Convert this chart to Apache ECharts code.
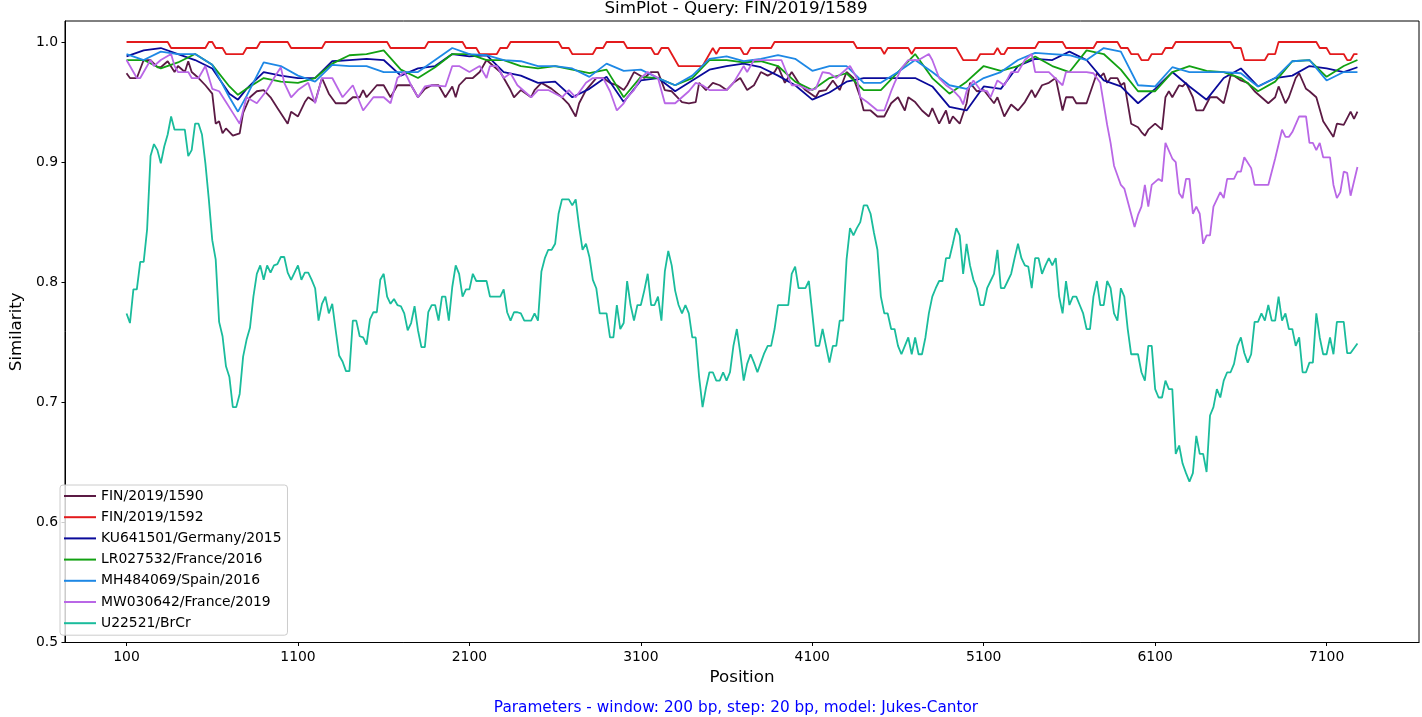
<!DOCTYPE html>
<html>
<head>
<meta charset="utf-8">
<script src="https://cdn.jsdelivr.net/npm/echarts@6/dist/echarts.min.js"></script>
<style>
html,body{margin:0;padding:0;background:#fff;}
#chart{width:1422px;height:717px;}
</style>
</head>
<body>
<div id="chart"></div>
<script>
const seriesNames = ['FIN/2019/1590','FIN/2019/1592','KU641501/Germany/2015','LR027532/France/2016','MH484069/Spain/2016','MW030642/France/2019','U22521/BrCr'];
const seriesColors = ['#5b1a44','#e31a1c','#0a0a9a','#12a112','#1e88e5','#b967e6','#1abc9c'];
const xTicks = [100,1100,2100,3100,4100,5100,6100,7100];
const yTicks = [0.5,0.6,0.7,0.8,0.9,1.0];

// shared positions for three of the series
const positions = [100,200,300,400,500,600,700,750,800,900,1000,1100,1200,1300,1400,1500,1600,1700,
 1800,1900,2000,2100,2200,2300,2400,2500,2600,2700,2800,2900,3000,3100,3200,3300,3400,3500,3600,
 3700,3800,3900,4000,4100,4200,4300,4400,4500,4600,4700,4800,4900,5000,5100,5200,5300,5400,5500,5600,
 5700,5800,5900,6000,6100,6200,6300,6400,6500,6600,6700,6800,6900,7000,7100,7200,7280];

const ku641501 = [.988,.993,.995,.990,.985,.978,.957,.952,.961,.975,.972,.970,.970,.984,.985,.986,.985,.972,
 .978,.980,.990,.988,.989,.975,.972,.966,.967,.954,.961,.971,.950,.968,.970,.959,.968,.977,.980,
 .982,.979,.972,.964,.952,.958,.967,.970,.970,.970,.970,.963,.946,.943,.963,.961,.980,.986,.985,.992,
 .985,.968,.963,.949,.961,.975,.963,.952,.970,.978,.963,.970,.972,.980,.978,.975,.979];

const lr027532 = [.985,.985,.978,.983,.990,.981,.963,.956,.961,.970,.967,.966,.970,.982,.989,.990,.993,.977,
 .970,.979,.990,.990,.985,.985,.980,.978,.980,.977,.974,.977,.954,.971,.970,.964,.970,.985,.985,
 .983,.984,.980,.967,.960,.970,.974,.960,.960,.975,.990,.970,.957,.967,.980,.976,.980,.988,.980,.975,
 .993,.990,.977,.959,.959,.975,.980,.976,.975,.970,.959,.967,.984,.985,.971,.980,.985];

const mh484069 = [.990,.985,.992,.990,.990,.981,.954,.942,.955,.983,.980,.972,.967,.981,.980,.980,.975,.975,
 .975,.985,.995,.990,.989,.985,.984,.980,.980,.978,.971,.982,.976,.977,.970,.964,.972,.986,.988,
 .984,.986,.989,.986,.976,.980,.980,.966,.966,.975,.985,.975,.964,.961,.970,.975,.985,.991,.990,.989,
 .985,.995,.992,.964,.963,.979,.975,.975,.975,.974,.963,.970,.984,.985,.968,.975,.975];

// FIN/2019/1590
const fin1590Pos = [100,120,160,200,240,280,300,340,380,400,
 440,460,480,520,560,600,620,640,660,680,
 720,760,780,820,860,900,940,980,1040,1060,
 1100,1140,1160,1200,1240,1280,1320,1380,1420,1460,
 1480,1500,1560,1600,1640,1680,1720,1760,1800,1840,
 1880,1920,1960,2000,2020,2040,2080,2120,2160,2200,
 2240,2280,2340,2360,2400,2460,2480,2520,2580,2640,
 2680,2720,2740,2780,2840,2880,2920,2960,3000,3020,
 3060,3120,3160,3200,3240,3280,3340,3380,3420,3440,
 3480,3520,3560,3600,3640,3680,3720,3760,3800,3840,
 3880,3900,3940,3980,4020,4060,4120,4140,4180,4220,
 4260,4300,4340,4380,4400,4440,4480,4520,4560,4600,
 4640,4660,4700,4740,4780,4800,4840,4880,4900,4920,
 4960,5000,5020,5060,5100,5160,5180,5220,5260,5300,
 5340,5380,5400,5440,5480,5520,5560,5580,5620,5640,
 5700,5760,5780,5800,5820,5840,5880,5900,5920,5960,
 6000,6020,6040,6060,6100,6140,6160,6180,6200,6240,
 6260,6280,6320,6340,6380,6420,6460,6500,6520,6540,
 6560,6600,6640,6680,6720,6760,6800,6820,6860,6880,
 6920,6940,6980,7000,7040,7080,7140,7160,7200,7240,
 7260,7280];
const fin1590Val = [.974,.970,.970,.985,.985,.979,.979,.984,.975,.980,
 .975,.984,.975,.970,.964,.957,.932,.934,.924,.928,
 .922,.924,.941,.954,.959,.960,.954,.945,.932,.942,
 .938,.950,.954,.950,.970,.957,.949,.949,.954,.954,
 .960,.954,.964,.964,.954,.964,.964,.964,.954,.961,
 .964,.964,.954,.963,.954,.964,.970,.970,.975,.985,
 .980,.975,.960,.954,.960,.954,.960,.966,.961,.954,
 .948,.938,.949,.960,.970,.970,.966,.964,.960,.964,
 .975,.970,.975,.975,.960,.959,.950,.949,.950,.966,
 .960,.966,.964,.960,.966,.970,.960,.964,.975,.972,
 .975,.980,.966,.975,.966,.960,.954,.959,.960,.968,
 .960,.975,.970,.954,.943,.943,.938,.938,.949,.954,
 .943,.954,.950,.943,.938,.945,.932,.943,.932,.938,
 .932,.949,.966,.959,.960,.949,.954,.938,.948,.943,
 .950,.960,.954,.964,.966,.970,.943,.954,.954,.949,
 .949,.974,.971,.974,.966,.970,.970,.964,.966,.932,
 .929,.925,.922,.927,.932,.927,.954,.959,.954,.964,
 .963,.966,.954,.943,.943,.954,.954,.949,.960,.972,
 .972,.968,.966,.959,.954,.949,.954,.963,.949,.954,
 .970,.974,.961,.959,.954,.934,.921,.932,.931,.942,
 .936,.942];

// FIN/2019/1592 (plateau edges)
const fin1592Pos = [100,340,360,560,580,600,620,660,680,780,
 800,860,880,1040,1060,1240,1260,1620,1640,1840,
 1860,2060,2080,2140,2160,2260,2280,2320,2340,2620,
 2640,2680,2700,2820,2840,2880,2900,3000,3020,3160,
 3180,3200,3220,3260,3280,3300,3320,3460,3480,3500,
 3520,3540,3560,3680,3700,3720,3740,3860,3880,4340,
 4360,4500,4520,4540,4660,4680,4700,4940,4960,4980,
 5060,5080,5160,5180,5200,5220,5240,5400,5420,5560,
 5580,5740,5760,5880,5900,5940,5960,6000,6020,6060,
 6080,6140,6160,6200,6220,6540,6560,6600,6620,6740,
 6760,6800,6820,7040,7060,7100,7120,7200,7220,7240,
 7260,7280];
const fin1592Val = [1,1,.995,.995,1,1,.995,.995,.99,.99,
 .995,.995,1,1,.995,.995,1,1,.995,.995,
 1,1,.995,.995,.99,.99,.995,.995,1,1,
 .995,.995,.99,.99,.995,.995,1,1,.995,.995,
 .99,.99,.995,.995,.99,.985,.98,.98,.985,.99,
 .995,.99,.995,.995,.99,.99,.995,.995,1,1,
 .995,.995,.99,.995,.995,.99,.995,.995,.99,.985,
 .985,.99,.99,.995,.99,.99,.995,.995,1,1,
 .995,.995,1,1,.995,.995,.99,.99,.985,.985,
 .99,.99,.995,.995,1,1,.995,.995,.985,.985,
 .99,.99,1,1,.995,.995,.99,.99,.985,.985,
 .99,.99];

// MW030642/France/2019
const mw030642Pos = [100,120,160,180,240,260,300,360,380,400,
 460,480,520,560,600,640,680,720,760,800,
 860,920,960,1000,1020,1060,1100,1160,1200,1240,
 1300,1360,1420,1480,1540,1600,1640,1680,1720,1740,
 1760,1800,1840,1880,1960,2000,2040,2100,2160,2200,
 2220,2260,2300,2340,2380,2460,2500,2560,2640,2680,
 2720,2780,2820,2880,2920,2960,3000,3020,3060,3100,
 3140,3200,3240,3300,3340,3380,3420,3460,3500,3600,
 3640,3700,3720,3760,3920,3980,4020,4080,4120,4160,
 4200,4240,4280,4320,4360,4380,4420,4480,4520,4560,
 4580,4620,4660,4720,4780,4800,4840,4880,4920,4960,
 4980,5000,5040,5080,5120,5140,5180,5220,5260,5300,
 5340,5380,5400,5480,5560,5580,5660,5700,5740,5760,
 5780,5820,5840,5860,5900,5920,5980,6000,6020,6040,
 6060,6080,6120,6140,6160,6200,6220,6240,6260,6280,
 6300,6320,6340,6360,6380,6400,6420,6440,6480,6500,
 6520,6560,6580,6600,6620,6660,6680,6760,6800,6840,
 6860,6880,6900,6940,6980,7000,7020,7040,7060,7080,
 7120,7140,7160,7180,7200,7220,7240,7280];
const mw030642Val = [.985,.980,.970,.970,.985,.980,.985,.990,.980,.975,
 .975,.970,.970,.980,.961,.959,.950,.941,.932,.954,
 .949,.960,.970,.979,.966,.954,.960,.966,.949,.970,
 .970,.954,.964,.943,.954,.954,.949,.970,.975,.970,
 .964,.954,.963,.964,.963,.980,.980,.975,.980,.970,
 .980,.980,.970,.974,.964,.954,.960,.960,.954,.960,
 .954,.966,.970,.970,.959,.943,.949,.954,.960,.970,
 .975,.970,.949,.949,.954,.959,.966,.964,.960,.960,
 .966,.980,.975,.985,.985,.964,.964,.960,.961,.975,
 .974,.970,.975,.980,.970,.954,.950,.943,.943,.959,
 .966,.978,.985,.985,.990,.985,.970,.964,.960,.954,
 .948,.959,.968,.960,.959,.954,.968,.964,.975,.975,
 .985,.990,.975,.975,.964,.975,.975,.975,.974,.970,
 .966,.931,.916,.897,.881,.878,.846,.856,.863,.881,
 .863,.881,.886,.884,.916,.903,.900,.874,.870,.886,
 .886,.857,.863,.857,.832,.839,.839,.863,.875,.870,
 .886,.886,.892,.892,.904,.895,.881,.881,.903,.927,
 .921,.921,.925,.938,.938,.916,.916,.910,.916,.904,
 .904,.881,.870,.875,.892,.891,.872,.896];

// U22521/BrCr
const u22521Pos = [100,120,140,160,180,200,220,240,260,280,
 300,320,340,360,380,440,460,480,500,520,
 540,560,580,600,620,640,660,680,700,720,
 740,760,780,800,820,840,860,880,900,920,
 940,960,980,1000,1020,1040,1060,1080,1100,1120,
 1140,1160,1180,1200,1220,1240,1260,1280,1300,1320,
 1340,1360,1380,1400,1420,1440,1460,1480,1500,1520,
 1540,1560,1580,1600,1620,1640,1660,1680,1700,1720,
 1740,1760,1780,1800,1820,1840,1860,1880,1900,1920,
 1940,1960,1980,2000,2020,2040,2060,2080,2100,2120,
 2140,2200,2220,2280,2300,2320,2340,2360,2380,
 2400,2420,2460,2480,2500,2520,2540,2560,2580,2600,
 2620,2640,2680,2700,2720,2740,2760,2780,2800,2820,
 2840,2860,2900,2920,2940,2960,2980,3000,3020,3040,
 3060,3080,3100,3120,3140,3160,3180,3200,3220,3240,
 3260,3280,3300,3320,3340,3360,3380,3400,3420,3440,
 3460,3480,3500,3520,3540,3560,3580,3600,3620,3640,
 3660,3680,3700,3720,3740,3760,3780,3800,3820,3840,
 3860,3880,3900,3960,3980,4000,4020,4060,4080,4100,
 4120,4140,4160,4180,4200,4220,4240,4260,4280,4300,
 4320,4340,4360,4380,4400,4420,4440,4460,4480,4500,
 4520,4540,4560,4580,4600,4620,4640,4660,4680,4700,
 4720,4740,4760,4780,4800,4820,4840,4860,4880,4900,
 4920,4940,
 4960,4980,5000,5020,5040,5060,5080,5100,5120,5140,
 5160,5180,5200,5220,5240,5260,5280,5300,5320,5340,
 5360,5380,5400,5420,5440,5460,5480,5500,5520,5540,
 5560,5580,5600,5620,5640,5660,5680,5700,5720,5740,
 5760,5780,5800,5820,5840,5860,5880,5900,5920,5940,
 5960,6000,6020,6040,6060,6080,6100,6120,6140,6160,
 6180,6200,6220,6240,6260,6280,6300,6320,6340,6360,
 6380,6400,6420,6440,6460,6480,6500,6520,6540,6560,
 6580,6600,6620,6640,6660,6680,6700,6720,6740,6760,
 6780,6800,6820,6840,6860,6880,6900,6920,6940,6960,
 6980,7000,7020,7040,7060,7080,7100,7120,7140,7160,
 7200,7220,7240,7280];
const u22521Val = [.774,.766,.794,.794,.817,.817,.844,.905,.915,.910,
 .899,.913,.923,.938,.927,.927,.905,.910,.932,.932,
 .923,.899,.869,.835,.819,.767,.755,.730,.721,.696,
 .696,.707,.738,.752,.762,.788,.807,.814,.802,.814,
 .808,.814,.815,.821,.821,.808,.802,.808,.814,.802,
 .808,.808,.802,.795,.768,.782,.788,.774,.782,.760,
 .739,.734,.726,.726,.768,.768,.755,.754,.748,.769,
 .775,.775,.802,.807,.788,.782,.786,.781,.780,.774,
 .760,.766,.780,.760,.746,.746,.775,.781,.781,.768,
 .788,.788,.768,.796,.814,.807,.788,.794,.794,.807,
 .801,.801,.788,.788,.794,.775,.768,.775,.775,
 .774,.768,.768,.774,.768,.809,.820,.827,.827,.832,
 .857,.869,.869,.864,.869,.846,.827,.832,.821,.802,
 .795,.774,.774,.754,.754,.781,.761,.766,.801,.781,
 .768,.781,.781,.793,.807,.781,.781,.788,.768,.809,
 .826,.814,.793,.781,.774,.781,.774,.754,.754,.721,
 .696,.712,.725,.725,.718,.718,.725,.718,.725,.747,
 .761,.741,.718,.732,.740,.733,.725,.733,.741,.747,
 .747,.761,.781,.781,.807,.813,.795,.795,.801,.774,
 .747,.747,.761,.747,.733,.747,.747,.768,.768,.819,
 .845,.839,.845,.850,.864,.864,.857,.841,.827,.788,
 .774,.774,.761,.761,.747,.740,.747,.754,.740,.754,
 .740,.740,.754,.774,.788,.795,.801,.801,.820,.820,
 .832,.845,
 .839,.807,.832,.814,.802,.795,.781,.781,.795,.801,
 .807,.827,.795,.795,.801,.807,.820,.832,.820,.814,
 .813,.795,.820,.820,.807,.814,.820,.814,.820,.788,
 .774,.801,.781,.788,.788,.781,.774,.761,.761,.788,
 .801,.781,.781,.801,.795,.774,.768,.795,.788,.761,
 .740,.740,.725,.718,.747,.747,.711,.704,.704,.718,
 .711,.711,.657,.664,.649,.641,.634,.641,.672,.657,
 .657,.642,.689,.696,.711,.704,.718,.725,.725,.732,
 .747,.754,.741,.733,.740,.767,.767,.774,.768,.781,
 .768,.768,.788,.768,.774,.761,.761,.747,.754,.725,
 .725,.733,.733,.774,.754,.740,.740,.754,.740,.767,
 .767,.741,.741,.749];

function zip(xs, ys){ const n=Math.min(xs.length, ys.length); const out=[]; for(let i=0;i<n;i++) out.push([xs[i], ys[i]]); return out; }

const seriesData = [
  zip(fin1590Pos, fin1590Val),
  zip(fin1592Pos, fin1592Val),
  zip(positions, ku641501),
  zip(positions, lr027532),
  zip(positions, mh484069),
  zip(mw030642Pos, mw030642Val),
  zip(u22521Pos, u22521Val)
];

const FONT = '"DejaVu Sans", "Liberation Sans", sans-serif';
const chart = echarts.init(document.getElementById('chart'), null, {renderer:'canvas'});
const option = {
  animation: false,
  backgroundColor: '#ffffff',
  textStyle: { fontFamily: FONT, color: '#000' },
  grid: { left: 53, right: 3, top: 21, bottom: 74.5, show: true, borderColor: '#000', borderWidth: 1, backgroundColor: 'rgba(0,0,0,0)' },
  xAxis: {
    type: 'value', min: -259, max: 7639,
    name: 'Position', nameLocation: 'middle', nameGap: 27,
    nameTextStyle: { fontSize: 16.7, color: '#000', fontFamily: FONT },
    axisLine: { show: true, onZero: false, lineStyle: { color: '#000', width: 1 } },
    axisTick: { show: true, length: 3.5, customValues: xTicks, lineStyle: { color: '#000', width: 1 } },
    axisLabel: { customValues: xTicks, fontSize: 13.9, color: '#000', margin: 8, fontFamily: FONT, formatter: v => String(v) },
    splitLine: { show: false }
  },
  yAxis: {
    type: 'value', min: 0.5, max: 1.0175,
    name: 'Similarity', nameLocation: 'middle', nameGap: 37,
    nameTextStyle: { fontSize: 16.7, color: '#000', fontFamily: FONT },
    axisLine: { show: true, onZero: false, lineStyle: { color: '#000', width: 1 } },
    axisTick: { show: true, length: 3.5, customValues: yTicks, lineStyle: { color: '#000', width: 1 } },
    axisLabel: { customValues: yTicks, fontSize: 13.9, color: '#000', margin: 7, fontFamily: FONT, formatter: v => v.toFixed(1) },
    splitLine: { show: false }
  },
  legend: {
    orient: 'vertical', left: 60, top: 485,
    padding: [4, 6, 5, 3],
    itemWidth: 32, itemHeight: 14, itemGap: 7.2,
    itemStyle: { opacity: 0 },
    backgroundColor: 'rgba(255,255,255,0.8)', borderColor: '#cccccc', borderWidth: 1, borderRadius: 3,
    textStyle: { fontSize: 13.9, color: '#000', fontFamily: FONT },
    data: seriesNames
  },
  graphic: [
    { type: 'text', x: 736, y: 9, silent: true,
      style: { text: 'SimPlot - Query: FIN/2019/1589', font: '16.7px ' + FONT, fill: '#000', align: 'center', verticalAlign: 'middle', textAlign: 'center', textVerticalAlign: 'middle' } },
    { type: 'text', x: 736, y: 708, silent: true,
      style: { text: 'Parameters - window: 200 bp, step: 20 bp, model: Jukes-Cantor', font: '15.3px ' + FONT, fill: '#0000ff', align: 'center', verticalAlign: 'middle', textAlign: 'center', textVerticalAlign: 'middle' } }
  ],
  series: seriesNames.map((name, i) => ({
    name: name, type: 'line', data: seriesData[i], symbol: 'none', showSymbol: false,
    lineStyle: { color: seriesColors[i], width: 1.8 }, itemStyle: { color: seriesColors[i] },
    emphasis: { disabled: true }, silent: true
  }))
};
chart.setOption(option);
</script>
</body>
</html>
